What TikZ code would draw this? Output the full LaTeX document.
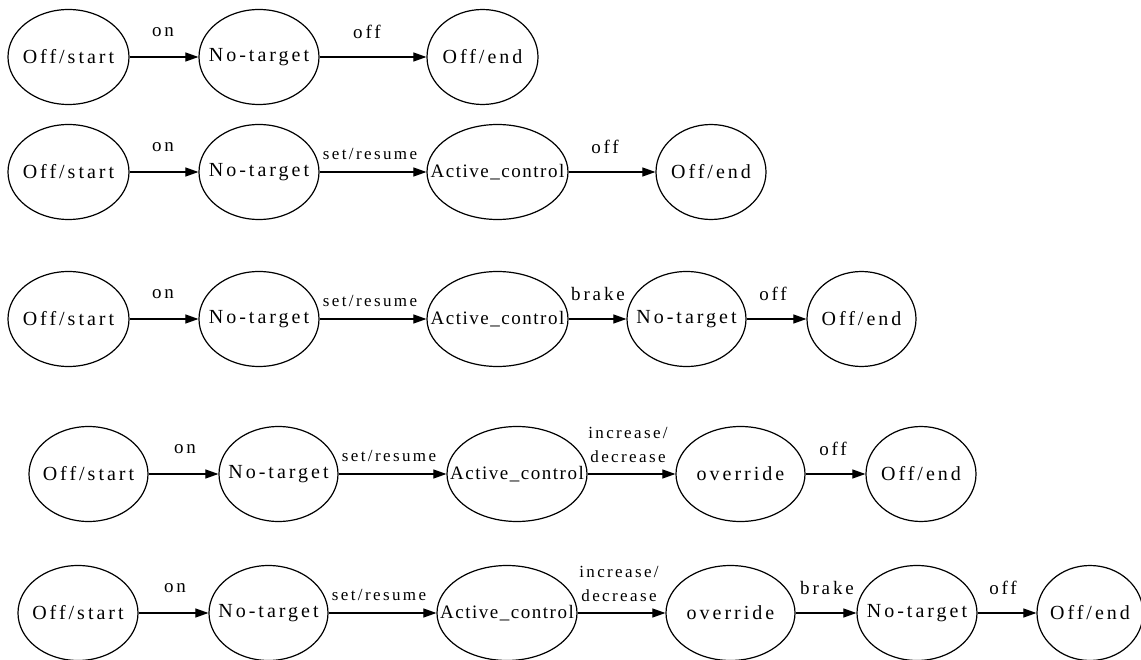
\documentclass[tikz,border=0pt]{standalone}
\usepackage{fontspec}
\setmainfont{Liberation Serif}
\newfontfamily\widesp{Liberation Serif}[LetterSpace=15]
\newfontfamily\narrowsp{Liberation Serif}[LetterSpace=8]
\newfontfamily\labsp{Liberation Serif}[LetterSpace=14]
\usetikzlibrary{shapes.geometric,arrows.meta}
\begin{document}
\begin{tikzpicture}[x=1pt,y=-1pt,
  st/.style={ellipse,draw,line width=1.2pt,inner sep=0pt,minimum height=95pt,
             font=\widesp\fontsize{20}{22}\selectfont},
  act/.style={st,font=\narrowsp\fontsize{19}{21}\selectfont},
  arr/.style={-{Triangle[length=13pt,width=9pt]},line width=1.1pt},
  lab/.style={font=\widesp\fontsize{19}{21}\selectfont,inner sep=0pt},
  sml/.style={font=\labsp\fontsize{17}{24}\selectfont,inner sep=0pt,align=center}]
\useasboundingbox (0,0) rectangle (1141,660);

% ---------- Row 1 ----------
\node[st,minimum width=121pt] (s1) at (68.5,57) {\makebox[0pt]{Off/start}};
\node[st,minimum width=120pt] (n1) at (259,57) {\makebox[0pt]{No-target}};
\node[st,minimum width=111pt] (e1) at (482.5,57) {\makebox[0pt]{Off/end}};
\draw[arr] (s1) -- (n1);
\draw[arr] (n1) -- (e1);
\node[lab] (l1a) at (163,32) {on};
\node[lab] (l1b) at (367,32) {off};

% ---------- Row 2 ----------
\node[st,minimum width=121pt] (s2) at (68.5,172) {\makebox[0pt]{Off/start}};
\node[st,minimum width=120pt] (n2) at (259,172) {\makebox[0pt]{No-target}};
\node[act,minimum width=141pt] (a2) at (497.5,172) {\makebox[0pt]{Active\_control}};
\node[st,minimum width=110pt] (e2) at (711,172) {\makebox[0pt]{Off/end}};
\draw[arr] (s2) -- (n2);
\draw[arr] (n2) -- (a2);
\draw[arr] (a2) -- (e2);
\node[lab] (l2a) at (163,147) {on};
\node[sml] (l2b) at (370,154) {set/resume};
\node[lab] (l2c) at (605,147) {off};

% ---------- Row 3 ----------
\node[st,minimum width=121pt] (s3) at (68.5,319) {\makebox[0pt]{Off/start}};
\node[st,minimum width=120pt] (n3) at (259,319) {\makebox[0pt]{No-target}};
\node[act,minimum width=141pt] (a3) at (497.5,319) {\makebox[0pt]{Active\_control}};
\node[st,minimum width=119pt] (m3) at (686.5,319) {\makebox[0pt]{No-target}};
\node[st,minimum width=109pt] (e3) at (861.5,319) {\makebox[0pt]{Off/end}};
\draw[arr] (s3) -- (n3);
\draw[arr] (n3) -- (a3);
\draw[arr] (a3) -- (m3);
\draw[arr] (m3) -- (e3);
\node[lab] (l3a) at (163,294) {on};
\node[sml] (l3b) at (370,301) {set/resume};
\node[lab] (l3c) at (598,294) {brake};
\node[lab] (l3d) at (773,294) {off};

% ---------- Row 4 ----------
\node[st,minimum width=119pt] (s4) at (88.5,474) {\makebox[0pt]{Off/start}};
\node[st,minimum width=119pt] (n4) at (278.5,474) {\makebox[0pt]{No-target}};
\node[act,minimum width=140pt] (a4) at (517,474) {\makebox[0pt]{Active\_control}};
\node[st,minimum width=129pt] (o4) at (740.5,474) {\makebox[0pt]{override}};
\node[st,minimum width=110pt] (e4) at (921,474) {\makebox[0pt]{Off/end}};
\draw[arr] (s4) -- (n4);
\draw[arr] (n4) -- (a4);
\draw[arr] (a4) -- (o4);
\draw[arr] (o4) -- (e4);
\node[lab] (l4a) at (185,449) {on};
\node[sml] (l4b) at (389,456) {set/resume};
\node[sml] (l4c) at (628,445) {increase/\\decrease};
\node[lab] (l4d) at (833,449) {off};

% ---------- Row 5 ----------
\node[st,minimum width=120pt] (s5) at (78,613) {\makebox[0pt]{Off/start}};
\node[st,minimum width=119pt] (n5) at (268.5,613) {\makebox[0pt]{No-target}};
\node[act,minimum width=140pt] (a5) at (507,613) {\makebox[0pt]{Active\_control}};
\node[st,minimum width=129pt] (o5) at (730.5,613) {\makebox[0pt]{override}};
\node[st,minimum width=120pt] (m5) at (917,613) {\makebox[0pt]{No-target}};
\node[st,minimum width=106pt] (e5) at (1090,613) {\makebox[0pt]{Off/end}};
\draw[arr] (s5) -- (n5);
\draw[arr] (n5) -- (a5);
\draw[arr] (a5) -- (o5);
\draw[arr] (o5) -- (m5);
\draw[arr] (m5) -- (e5);
\node[lab] (l5a) at (175,588) {on};
\node[sml] (l5b) at (379,595) {set/resume};
\node[sml] (l5c) at (619,584) {increase/\\decrease};
\node[lab] (l5d) at (827,588) {brake};
\node[lab] (l5e) at (1003,588) {off};
\end{tikzpicture}
\end{document}
